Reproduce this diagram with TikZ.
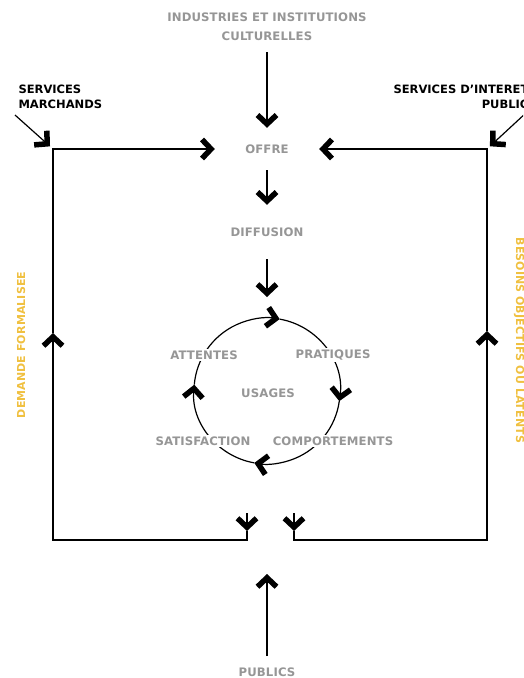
\documentclass[tikz,border=0pt]{standalone}
\usepackage{fontspec}
\newfontfamily\labelfont{DejaVu Sans}[LetterSpace=1]
\newfontfamily\servfont{DejaVu Sans}
\usepackage{tikz}
\usetikzlibrary{arrows.meta}
\definecolor{labelgrey}{RGB}{150,150,150}
\definecolor{needyellow}{RGB}{240,192,64}

\begin{document}
\begin{tikzpicture}[x=1pt, y=1pt,
    >={Straight Barb[length=9pt,width=19pt,line width=5.5pt]},
    flow/.style={->, line width=1.2pt},
    frame/.style={line width=1.2pt},
    stage/.style={font=\labelfont\bfseries\fontsize{11.7}{19}\selectfont, text=labelgrey, align=center},
    cyclab/.style={stage, fill=white, inner sep=2pt},
    source/.style={font=\servfont\bfseries\fontsize{11.5}{15}\selectfont},
    needlabel/.style={font=\labelfont\bfseries\fontsize{11}{12}\selectfont, text=needyellow}]
    \useasboundingbox (0,0) rectangle (523,-678);
    \clip (0,0) rectangle (523,-678);

    % main chain
    \node[stage] (industries) at (267,-27) {INDUSTRIES ET INSTITUTIONS\\CULTURELLES};
    \node[stage, minimum width=104, minimum height=42] (offre) at (267,-149) {OFFRE};
    \node[stage, minimum height=54] (diffusion) at (267,-232) {DIFFUSION};
    \coordinate (feed) at (267,-297);
    \coordinate (cycle) at (267,-391);

    \draw[flow, shorten <=8pt] (industries) -- (offre);
    \draw[flow] (offre) -- (diffusion);
    \draw[flow] (diffusion) -- (feed);

    % usage cycle
    \draw[flow] (cycle) ++(175:73) arc[start angle=175, end angle=80, radius=73];
    \draw[flow] (cycle) ++(80:73) arc[start angle=80, end angle=-8, radius=73];
    \draw[flow] (cycle) ++(-8:73) arc[start angle=-8, end angle=-100, radius=73];
    \draw[flow] (cycle) ++(-100:73) arc[start angle=-100, end angle=-185, radius=73];

    \node[stage] (usages) at (268,-393) {USAGES};
    \node[cyclab] (attentes) at (204,-355) {ATTENTES};
    \node[cyclab] (pratiques) at (333,-355) {PRATIQUES};
    \node[cyclab] (satisfaction) at (203,-441) {SATISFACTION};
    \node[cyclab] (comportements) at (333,-441) {COMPORTEMENTS};

    % services
    \node[source, anchor=west, align=left] (marchands) at (15,-97) {SERVICES\\MARCHANDS};
    \node[source, anchor=west, align=right] (interet) at (390,-97) {SERVICES D’INTERET\\PUBLIC};

    % frame corners
    \coordinate (ltop) at (53,-149);
    \coordinate (lup) at (53,-333);
    \coordinate (lcorn) at (53,-540);
    \coordinate (lbend) at (247,-540);
    \coordinate (ltip) at (247,-531);
    \coordinate (lstub) at (247,-513);
    \coordinate (rtop) at (487,-149);
    \coordinate (rup) at (487,-331);
    \coordinate (rcorn) at (487,-540);
    \coordinate (rbend) at (294,-540);
    \coordinate (rtip) at (294,-531);
    \coordinate (rstub) at (294,-513);
    \coordinate (marchin) at (15,-115);
    \coordinate (interin) at (527,-112);

    \draw[flow, shorten >=4pt] (marchin) -- (ltop);
    \draw[flow, shorten >=4pt] (interin) -- (rtop);

    \draw[flow] (ltip) -- (lbend) -- (lcorn) -- (lup);
    \draw[flow] (lup) -- (ltop) -- (offre.west);
    \draw[flow] (lstub) -- (ltip);
    \draw[flow] (rtip) -- (rbend) -- (rcorn) -- (rup);
    \draw[flow] (rup) -- (rtop) -- (offre.east);
    \draw[flow] (rstub) -- (rtip);

    \node[needlabel, rotate=90] (demande) at (21,-345) {DEMANDE FORMALISEE};
    \node[needlabel, rotate=-90, anchor=west] (besoins) at (519,-234) {BESOINS OBJECTIFS OU LATENTS};

    % publics
    \node[stage] (publics) at (267,-672) {PUBLICS};
    \coordinate (publicsin) at (267,-574);
    \draw[flow, shorten <=8pt] (publics) -- (publicsin);
\end{tikzpicture}
\end{document}
